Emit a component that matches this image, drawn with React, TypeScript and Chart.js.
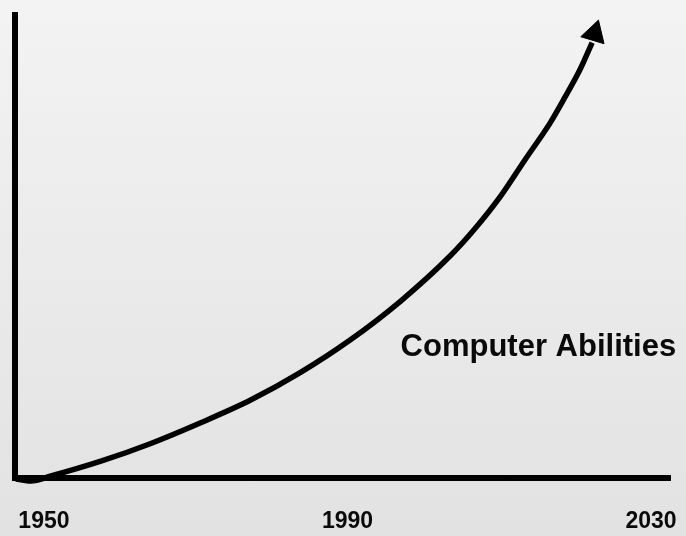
import React, { useEffect, useRef } from "react";
import { Chart, registerables } from "chart.js";

Chart.register(...registerables);

// Curve: years and "ability" level (0 = x axis, 100 = top of y axis)
const years = [1946.28, 1948.29, 1950.92, 1957.5, 1964.08, 1970.66, 1977.24, 1983.82, 1990.39, 1996.97, 2003.55, 2006.84, 2010.13, 2013.42, 2016.71, 2018.68, 2020.66, 2022.24];
const ability = [-0.21, -0.64, 0.43, 3.62, 7.46, 11.94, 16.84, 22.81, 29.85, 38.17, 48.0, 53.94, 60.77, 68.8, 76.7, 82.3, 88.27, 94.03];

// Arrow head at the end of the curve
const arrowYear = [2022.54];
const arrowValue = [96.0];
const arrowAngle = 16.7;

const tickYears = [1950, 1990, 2030];
const seriesLabel = "Computer Abilities";
const labelYear = 1997.0;
const labelValue = 26.4;

const FONT = "'Liberation Sans', Arial, Helvetica, sans-serif";

export default function App() {
  const ref = useRef<HTMLCanvasElement | null>(null);

  useEffect(() => {
    if (!ref.current) return;
    const textPlugin = {
      id: "seriesText",
      afterDraw(chart: any) {
        const { ctx, scales } = chart;
        const x = scales.x.getPixelForValue(labelYear);
        const y = scales.y.getPixelForValue(labelValue);
        ctx.save();
        ctx.font = `bold 31px ${FONT}`;
        ctx.fillStyle = "#0a0a0a";
        ctx.textBaseline = "alphabetic";
        ctx.textAlign = "left";
        ctx.fillText(seriesLabel, x, y);
        ctx.restore();
      },
    };

    const chart = new Chart(ref.current, {
      type: "line",
      data: {
        datasets: [
          {
            label: seriesLabel,
            data: years.map((yr, i) => ({ x: yr, y: ability[i] })),
            borderColor: "#000",
            borderWidth: 5.5,
            pointRadius: 0,
            cubicInterpolationMode: "monotone",
            fill: false,
            clip: false as any,
          },
          {
            label: "arrow",
            data: arrowYear.map((yr, i) => ({ x: yr, y: arrowValue[i] })),
            showLine: false,
            pointStyle: "triangle",
            pointRadius: 14,
            pointRotation: arrowAngle,
            pointBackgroundColor: "#000",
            pointBorderColor: "#000",
            pointBorderWidth: 1,
            clip: false as any,
          },
        ],
      },
      options: {
        responsive: false,
        animation: false,
        devicePixelRatio: 1,
        layout: { padding: { top: 9, right: 16, left: 0, bottom: 0 } },
        plugins: {
          legend: { display: false },
          tooltip: { enabled: false },
          title: { display: false },
        },
        scales: {
          x: {
            type: "linear",
            min: 1946.184,
            max: 2032.5,
            grid: { display: false, drawTicks: false },
            border: { display: true, color: "#000", width: 6 },
            afterBuildTicks: (s: any) => {
              s.ticks = tickYears.map((v) => ({ value: v }));
            },
            afterFit: (s: any) => {
              s.height = 58;
              s.paddingLeft = 0;
              s.paddingRight = 0;
            },
            ticks: {
              padding: 30,
              maxRotation: 0,
              autoSkip: false,
              color: "#0a0a0a",
              font: { family: FONT, size: 23, weight: "bold" },
              callback: (v: any) => String(v),
            },
          },
          y: {
            type: "linear",
            min: 0,
            max: 100,
            grid: { display: false, drawTicks: false },
            border: { display: true, color: "#000", width: 6 },
            ticks: { display: false },
            afterFit: (s: any) => {
              s.width = 14;
            },
          },
        },
      },
      plugins: [textPlugin],
    } as any);

    return () => chart.destroy();
  }, []);

  return (
    <div
      style={{
        position: "absolute",
        left: 0,
        top: 0,
        width: 686,
        height: 536,
        background: "linear-gradient(#f3f3f3, #e2e2e2)",
      }}
    >
      <canvas ref={ref} width={686} height={536} style={{ display: "block" }} />
    </div>
  );
}
